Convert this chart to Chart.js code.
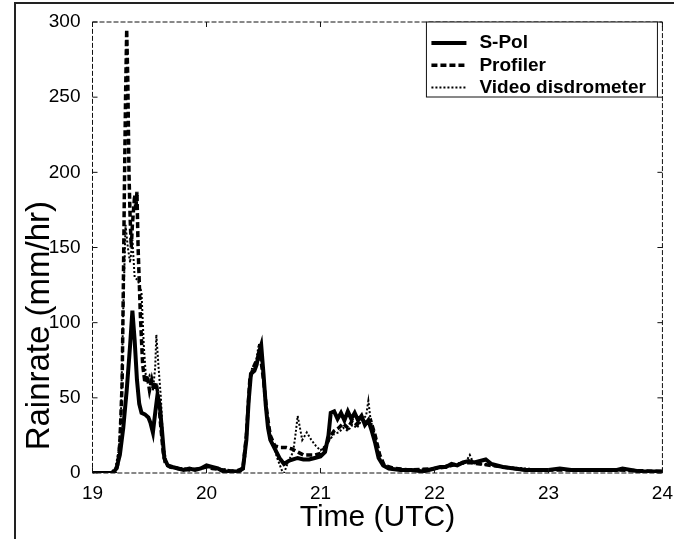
<!DOCTYPE html>
<html>
<head>
<meta charset="utf-8">
<script src="https://cdn.jsdelivr.net/npm/chart.js@4/dist/chart.umd.min.js"></script>
<style>
    body { margin: 0; background: #fff; }
    canvas { display: block; }
</style>
</head>
<body>
<canvas id="rain-chart" width="674" height="539"></canvas>
<script>
// time in hours UTC, rain rate in mm/hr
var spolTime = [19.00, 19.18, 19.21, 19.24, 19.27, 19.30, 19.33, 19.35, 19.37, 19.39, 19.41, 19.43, 19.46, 19.49, 19.51, 19.53, 19.55, 19.57, 19.59, 19.61,
    19.63, 19.66, 19.70, 19.75, 19.80, 19.85, 19.90, 19.95, 20.00, 20.05, 20.10, 20.15, 20.20, 20.28, 20.32, 20.35, 20.37, 20.39, 20.42, 20.44,
    20.46, 20.48, 20.50, 20.52, 20.54, 20.56, 20.60, 20.64, 20.68, 20.72, 20.76, 20.80, 20.85, 20.90, 20.95, 21.00, 21.04, 21.07, 21.09, 21.12,
    21.15, 21.18, 21.21, 21.24, 21.27, 21.30, 21.33, 21.36, 21.39, 21.42, 21.45, 21.48, 21.51, 21.55, 21.60, 21.70, 21.80, 21.90, 21.95, 22.00,
    22.05, 22.10, 22.15, 22.20, 22.25, 22.30, 22.35, 22.40, 22.45, 22.50, 22.55, 22.60, 22.70, 22.80, 22.90, 23.00, 23.10, 23.20, 23.40, 23.60,
    23.65, 23.80, 24.00];
var spolRate = [0, 0, 3, 12, 30, 55, 85, 108, 88, 62, 46, 40, 39, 37, 33, 27, 40, 52, 45, 28,
    10, 5, 4, 3, 2, 3, 2, 3, 5, 4, 3, 1, 1, 1, 3, 22, 48, 66, 68, 72,
    80, 85, 66, 45, 30, 22, 16, 10, 6, 8, 9, 10, 9, 9, 10, 11, 14, 25, 40, 41,
    36, 40, 35, 41, 36, 40, 35, 38, 32, 35, 28, 20, 10, 5, 3, 2, 2, 1, 2, 3,
    4, 4, 6, 5, 7, 8, 7, 8, 9, 6, 5, 4, 3, 2, 2, 2, 3, 2, 2, 2,
    3, 1, 1];

var profTime = [19.00, 19.20, 19.22, 19.24, 19.26, 19.27, 19.28, 19.29, 19.30, 19.31, 19.32, 19.33, 19.34, 19.35, 19.37, 19.38, 19.39, 19.40, 19.42, 19.44,
    19.46, 19.48, 19.50, 19.52, 19.54, 19.56, 19.58, 19.60, 19.62, 19.64, 19.68, 19.75, 19.85, 19.95, 20.00, 20.05, 20.15, 20.25, 20.32, 20.35,
    20.38, 20.41, 20.44, 20.47, 20.50, 20.53, 20.56, 20.60, 20.65, 20.70, 20.75, 20.80, 20.85, 20.90, 20.95, 21.00, 21.05, 21.08, 21.12, 21.16,
    21.20, 21.24, 21.28, 21.32, 21.36, 21.40, 21.44, 21.48, 21.52, 21.56, 21.65, 21.80, 22.00, 22.10, 22.20, 22.30, 22.40, 22.50, 22.60, 22.80,
    23.00, 23.30, 23.60, 24.00];
var profRate = [0, 0, 5, 20, 60, 120, 190, 250, 295, 260, 200, 170, 150, 165, 185, 175, 187, 150, 105, 72,
    60, 65, 55, 62, 55, 60, 48, 30, 14, 6, 4, 3, 2, 3, 4, 3, 2, 1, 3, 25,
    62, 70, 75, 80, 62, 40, 25, 18, 17, 17, 16, 14, 12, 12, 12, 13, 18, 24, 28, 30,
    33, 30, 35, 32, 36, 33, 35, 25, 12, 5, 3, 2, 3, 4, 6, 7, 6, 5, 4, 2,
    2, 2, 2, 1];

var vidTime = [19.00, 19.15, 19.20, 19.23, 19.25, 19.27, 19.29, 19.31, 19.33, 19.35, 19.37, 19.40, 19.43, 19.45, 19.47, 19.50, 19.53, 19.55, 19.56, 19.58,
    19.60, 19.62, 19.65, 19.70, 19.80, 19.90, 20.00, 20.10, 20.20, 20.30, 20.34, 20.37, 20.40, 20.43, 20.46, 20.48, 20.51, 20.54, 20.58, 20.62,
    20.66, 20.68, 20.72, 20.76, 20.78, 20.80, 20.82, 20.84, 20.88, 20.92, 20.96, 21.00, 21.04, 21.08, 21.12, 21.16, 21.20, 21.24, 21.28, 21.32,
    21.36, 21.40, 21.42, 21.44, 21.48, 21.52, 21.56, 21.65, 21.80, 22.00, 22.10, 22.20, 22.28, 22.31, 22.34, 22.40, 22.50, 22.60, 22.80, 23.00,
    23.30, 23.60, 24.00];
var vidRate = [0, 0, 3, 15, 40, 110, 165, 150, 140, 155, 130, 128, 120, 85, 62, 65, 55, 70, 92, 70,
    50, 20, 6, 4, 3, 2, 4, 3, 2, 1, 10, 50, 70, 72, 86, 75, 55, 30, 20, 10,
    2, 0, 8, 14, 25, 38, 30, 22, 27, 22, 18, 15, 18, 22, 26, 27, 30, 28, 32, 30,
    35, 38, 48, 35, 25, 10, 4, 2, 2, 3, 5, 6, 8, 12, 7, 6, 5, 4, 3, 2,
    2, 2, 1];

var timeTicks = [19, 20, 21, 22, 23, 24];
var rateTicks = [0, 50, 100, 150, 200, 250, 300];

Chart.defaults.font.family = "'Liberation Sans', Arial, sans-serif";
Chart.defaults.color = "#000";

function toPoints(times, values) {
    let points = [];
    for (let i = 0; i < times.length; i++) {
        points.push({ x: times[i], y: values[i] });
    }
    return points;
}

// axes box with inward ticks, page border, y title and the boxed legend
var framePlugin = {
    id: "frame",
    beforeDraw(chart) {
        let ctx = chart.ctx;
        ctx.save();
        ctx.strokeStyle = "#222";
        ctx.lineWidth = 2;
        ctx.beginPath();
        ctx.moveTo(15, 539);
        ctx.lineTo(15, 3);
        ctx.lineTo(674, 3);
        ctx.stroke();
        ctx.restore();
    },
    afterDatasetsDraw(chart) {
        let ctx = chart.ctx;
        let a = chart.chartArea;
        let xs = chart.scales.x;
        let ys = chart.scales.y;
        ctx.save();
        ctx.strokeStyle = "#111";
        ctx.lineWidth = 1;
        ctx.setLineDash([5, 2]);
        ctx.strokeRect(a.left, a.top, a.right - a.left, a.bottom - a.top);
        ctx.setLineDash([]);
        ctx.beginPath();
        for (let t of timeTicks) {
            let px = xs.getPixelForValue(t);
            ctx.moveTo(px, a.bottom);
            ctx.lineTo(px, a.bottom - 5);
            ctx.moveTo(px, a.top);
            ctx.lineTo(px, a.top + 5);
        }
        for (let r of rateTicks) {
            let py = ys.getPixelForValue(r);
            ctx.moveTo(a.left, py);
            ctx.lineTo(a.left + 5, py);
            ctx.moveTo(a.right, py);
            ctx.lineTo(a.right - 5, py);
        }
        ctx.stroke();

        // y axis title, sits a bit below the middle of the axis as in the figure
        ctx.save();
        ctx.translate(40, ys.getPixelForValue(98));
        ctx.rotate(-Math.PI / 2);
        ctx.font = "33px 'Liberation Sans', Arial, sans-serif";
        ctx.textAlign = "center";
        ctx.textBaseline = "middle";
        ctx.fillStyle = "#000";
        ctx.fillText("Rainrate (mm/hr)", 0, 0);
        ctx.restore();

        // legend
        let boxRight = a.right - 5;
        let boxLeft = boxRight - 231;
        let boxTop = a.top;
        ctx.fillStyle = "#fff";
        ctx.fillRect(boxLeft, boxTop, boxRight - boxLeft, 75);
        ctx.strokeStyle = "#111";
        ctx.lineWidth = 1;
        ctx.strokeRect(boxLeft, boxTop, boxRight - boxLeft, 75);
        ctx.font = "bold 19px 'Liberation Sans', Arial, sans-serif";
        ctx.textBaseline = "middle";
        ctx.fillStyle = "#000";
        chart.data.datasets.forEach(function (ds, i) {
            let y = boxTop + 21 + i * 22.3;
            ctx.strokeStyle = ds.borderColor;
            ctx.lineWidth = ds.borderWidth;
            ctx.setLineDash(ds.borderDash || []);
            ctx.beginPath();
            ctx.moveTo(boxLeft + 5, y);
            ctx.lineTo(boxLeft + 40, y);
            ctx.stroke();
            ctx.fillText(ds.label, boxLeft + 53, y);
        });
        ctx.restore();
    },
};

new Chart(document.getElementById("rain-chart"), {
    type: "scatter",
    data: {
        datasets: [
            {
                label: "S-Pol",
                data: toPoints(spolTime, spolRate),
                showLine: true,
                borderColor: "#000",
                borderWidth: 4,
                borderDash: [],
                pointRadius: 0,
            },
            {
                label: "Profiler",
                data: toPoints(profTime, profRate),
                showLine: true,
                borderColor: "#000",
                borderWidth: 3.5,
                borderDash: [6, 3],
                pointRadius: 0,
            },
            {
                label: "Video disdrometer",
                data: toPoints(vidTime, vidRate),
                showLine: true,
                borderColor: "#000",
                borderWidth: 2,
                borderDash: [2, 2],
                pointRadius: 0,
            },
        ],
    },
    options: {
        responsive: false,
        animation: false,
        layout: { padding: { left: 0, right: 3, top: 22, bottom: 0 } },
        plugins: {
            legend: { display: false },
            tooltip: { enabled: false },
        },
        scales: {
            x: {
                type: "linear",
                min: 19,
                max: 24,
                afterBuildTicks: function (scale) {
                    scale.ticks = timeTicks.map((v) => ({ value: v }));
                },
                ticks: { font: { size: 19 }, padding: 1, maxRotation: 0 },
                grid: { display: false },
                border: { display: false },
                title: {
                    display: true,
                    text: "Time (UTC)",
                    font: { size: 30 },
                    padding: { top: 0, bottom: 3 },
                },
                afterFit: function (scale) {
                    scale.height = 66;
                },
            },
            y: {
                type: "linear",
                min: 0,
                max: 300,
                afterBuildTicks: function (scale) {
                    scale.ticks = rateTicks.map((v) => ({ value: v }));
                },
                ticks: { font: { size: 19 }, padding: 4 },
                grid: { display: false },
                border: { display: false },
                title: { display: false },
                afterFit: function (scale) {
                    scale.width = 92.5;
                },
            },
        },
    },
    plugins: [framePlugin],
});
</script>
</body>
</html>
